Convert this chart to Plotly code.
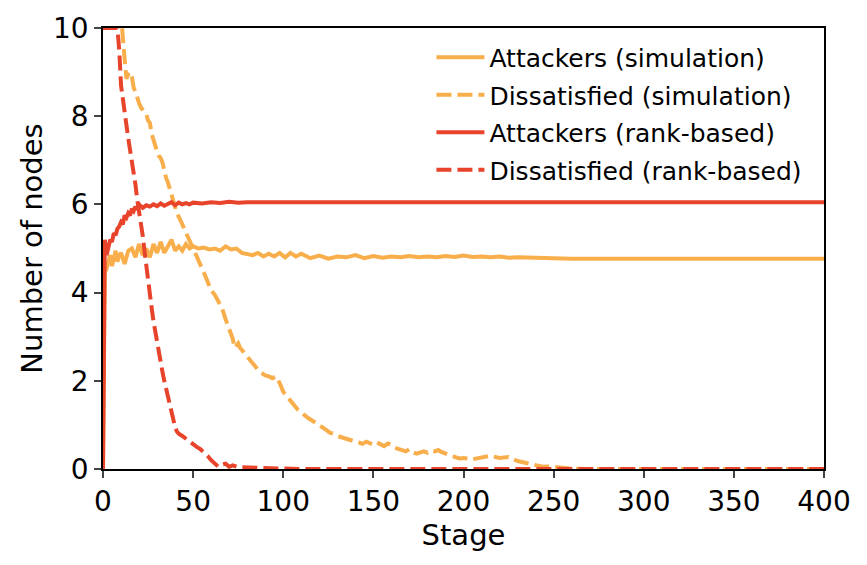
import plotly.graph_objects as go

# ---------------- data ----------------
att_sim_x = [0, 1, 2, 3, 4, 5, 6, 7, 8, 9, 10, 12, 14, 16, 18, 20, 22, 24, 26, 28, 30,
             32, 34, 36, 38, 40, 42, 44, 46, 48, 50, 53, 56, 59, 62, 65, 68, 71, 74, 77,
             80, 83, 86, 89, 92, 95, 98, 101, 104, 107, 110, 115, 120, 125, 130, 135,
             140, 145, 150, 155, 160, 165, 170, 175, 180, 185, 190, 195, 200, 205, 210,
             215, 220, 225, 230, 240, 250, 260, 400]
att_sim_y = [0, 4.45, 4.55, 4.7, 4.85, 4.6, 4.75, 4.95, 4.7, 4.85, 4.9, 4.65, 4.95, 5.0,
             4.8, 5.1, 4.85, 5.0, 4.8, 5.1, 4.9, 5.15, 4.9, 5.05, 5.2, 4.95, 5.05, 4.95,
             5.1, 5.0, 5.05, 5.0, 5.02, 4.98, 5.0, 4.95, 5.05, 4.98, 5.0, 4.9, 4.88, 4.85,
             4.9, 4.82, 4.88, 4.82, 4.9, 4.8, 4.9, 4.82, 4.88, 4.78, 4.84, 4.77, 4.82, 4.8,
             4.85, 4.78, 4.83, 4.79, 4.82, 4.8, 4.83, 4.8, 4.82, 4.8, 4.83, 4.81, 4.84,
             4.81, 4.82, 4.8, 4.82, 4.79, 4.8, 4.78, 4.78, 4.77, 4.77]

dis_sim_x = [0, 10, 12, 13, 14, 15, 16, 17, 18, 19, 20, 21, 22, 23, 24, 25, 26, 27, 28,
             29, 30, 31, 32, 33, 34, 35, 36, 37, 38, 39, 40, 41, 42, 43, 44, 45, 46, 47,
             48, 50, 52, 54, 56, 58, 60, 62, 64, 66, 68, 70, 72, 73, 74, 75, 76, 78, 80,
             82, 84, 86, 88, 90, 92, 94, 96, 98, 100, 102, 104, 106, 108, 110, 112, 114,
             116, 118, 120, 122, 124, 126, 128, 130, 132, 134, 136, 138, 140, 142, 144,
             146, 148, 150, 152, 154, 156, 158, 160, 162, 164, 166, 168, 170, 172, 174,
             176, 178, 180, 182, 184, 186, 188, 190, 192, 194, 196, 198, 200, 205, 210,
             215, 220, 225, 230, 235, 240, 244, 248, 252, 256, 260, 270, 400]
dis_sim_y = [10.8, 10.3, 9.3, 8.85, 8.95, 9.0, 8.9, 8.65, 8.55, 8.4, 8.3, 8.2, 8.15,
             8.1, 8.05, 7.9, 7.85, 7.6, 7.45, 7.35, 7.2, 7.1, 7.05, 6.95, 6.75, 6.6, 6.5,
             6.35, 6.28, 6.1, 5.95, 5.8, 5.72, 5.65, 5.55, 5.45, 5.35, 5.25, 5.15, 5.0,
             4.82, 4.65, 4.45, 4.25, 4.05, 3.95, 3.8, 3.65, 3.4, 3.2, 2.95, 2.75, 2.8,
             2.85, 2.75, 2.65, 2.55, 2.42, 2.35, 2.25, 2.18, 2.12, 2.1, 2.06, 2.1, 1.95,
             1.75, 1.65, 1.52, 1.45, 1.35, 1.28, 1.2, 1.15, 1.1, 1.05, 0.98, 0.95, 0.88,
             0.82, 0.8, 0.75, 0.72, 0.7, 0.68, 0.65, 0.62, 0.6, 0.57, 0.62, 0.58, 0.55,
             0.6, 0.55, 0.52, 0.58, 0.55, 0.48, 0.45, 0.42, 0.4, 0.45, 0.38, 0.35, 0.38,
             0.4, 0.37, 0.42, 0.4, 0.43, 0.38, 0.35, 0.3, 0.28, 0.26, 0.24, 0.25, 0.22,
             0.25, 0.3, 0.25, 0.27, 0.18, 0.13, 0.1, 0.05, 0.06, 0.04, 0.02, 0.01, 0, 0]

att_rank_x = [0, 1, 2, 3, 4, 5, 6, 7, 8, 9, 10, 11, 12, 13, 14, 15, 16, 17, 18, 19, 20,
              22, 24, 26, 28, 30, 32, 34, 36, 38, 40, 42, 44, 46, 48, 50, 55, 60, 65, 70,
              75, 80, 400]
att_rank_y = [0, 5.2, 4.85, 5.0, 5.2, 5.15, 5.35, 5.3, 5.45, 5.5, 5.6, 5.55, 5.75, 5.7,
              5.8, 5.75, 5.9, 5.85, 5.95, 5.88, 6.0, 5.92, 5.98, 5.95, 6.0, 5.96, 6.02,
              5.97, 6.0, 6.05, 5.98, 6.04, 6.0, 6.03, 6.0, 6.04, 6.02, 6.05, 6.03, 6.06,
              6.04, 6.05, 6.05]

dis_rank_x = [0, 8, 9, 10, 11, 12, 13, 14, 15, 16, 17, 18, 19, 20, 21, 22, 23, 24, 25, 26,
              27, 28, 29, 30, 31, 32, 33, 34, 35, 36, 37, 38, 39, 40, 41, 42, 44, 46, 48,
              50, 52, 54, 56, 58, 60, 62, 64, 66, 68, 70, 72, 75, 80, 90, 100, 110, 400]
dis_rank_y = [10, 10, 9.5, 8.7, 8.4, 8.0, 7.8, 7.5, 7.25, 7.0, 6.7, 6.45, 6.1, 5.85, 5.55,
              5.3, 4.95, 4.6, 4.2, 3.95, 3.65, 3.35, 3.1, 2.85, 2.65, 2.4, 2.2, 2.0, 1.82,
              1.62, 1.45, 1.28, 1.1, 0.95, 0.85, 0.8, 0.75, 0.68, 0.62, 0.55, 0.5, 0.45,
              0.38, 0.3, 0.2, 0.12, 0.05, 0.1, 0.12, 0.05, 0.08, 0.04, 0.03, 0.02, 0.01,
              0, 0]

x_ticks = [0, 50, 100, 150, 200, 250, 300, 350, 400]
y_ticks = [0, 2, 4, 6, 8, 10]

ORANGE = "#f8ae4a"
RED = "#e8432b"
FONT = "DejaVu Sans"
DASH = "15px,6px"

fig = go.Figure()
series = [
    ("Attackers (simulation)", att_sim_x, att_sim_y, ORANGE, "solid"),
    ("Dissatisfied (simulation)", dis_sim_x, dis_sim_y, ORANGE, DASH),
    ("Attackers (rank-based)", att_rank_x, att_rank_y, RED, "solid"),
    ("Dissatisfied (rank-based)", dis_rank_x, dis_rank_y, RED, DASH),
]
for i, (name, xs, ys, col, dash) in enumerate(series):
    fig.add_trace(go.Scatter(x=xs, y=ys, mode="lines", name=name,
                             legendgroup=f"g{i}",
                             line=dict(color=col, width=4, dash=dash)))

fig.update_layout(
    width=867, height=565,
    margin=dict(l=103, r=43, t=25, b=96),
    plot_bgcolor="white", paper_bgcolor="white",
    font=dict(family=FONT, size=24, color="black"),
    showlegend=True,
    legend=dict(x=0.977, y=0.985, xanchor="right", yanchor="top",
                bgcolor="rgba(0,0,0,0)", font=dict(size=25, family=FONT),
                traceorder="grouped", tracegroupgap=2, itemwidth=48),
)
fig.update_xaxes(range=[0, 400], tickvals=x_ticks, ticks="outside", ticklen=7,
                 tickwidth=1.5, linecolor="black", linewidth=1.5, mirror=True,
                 showgrid=False, zeroline=False, tickfont=dict(size=28),
                 title=dict(text="Stage", font=dict(size=29), standoff=4))
fig.update_yaxes(range=[0, 10], tickvals=y_ticks, ticks="outside", ticklen=7,
                 tickwidth=1.5, linecolor="black", linewidth=1.5, mirror=True,
                 showgrid=False, zeroline=False, tickfont=dict(size=28),
                 title=dict(text="Number of nodes", font=dict(size=29), standoff=2))

fig.write_html("out.html")
